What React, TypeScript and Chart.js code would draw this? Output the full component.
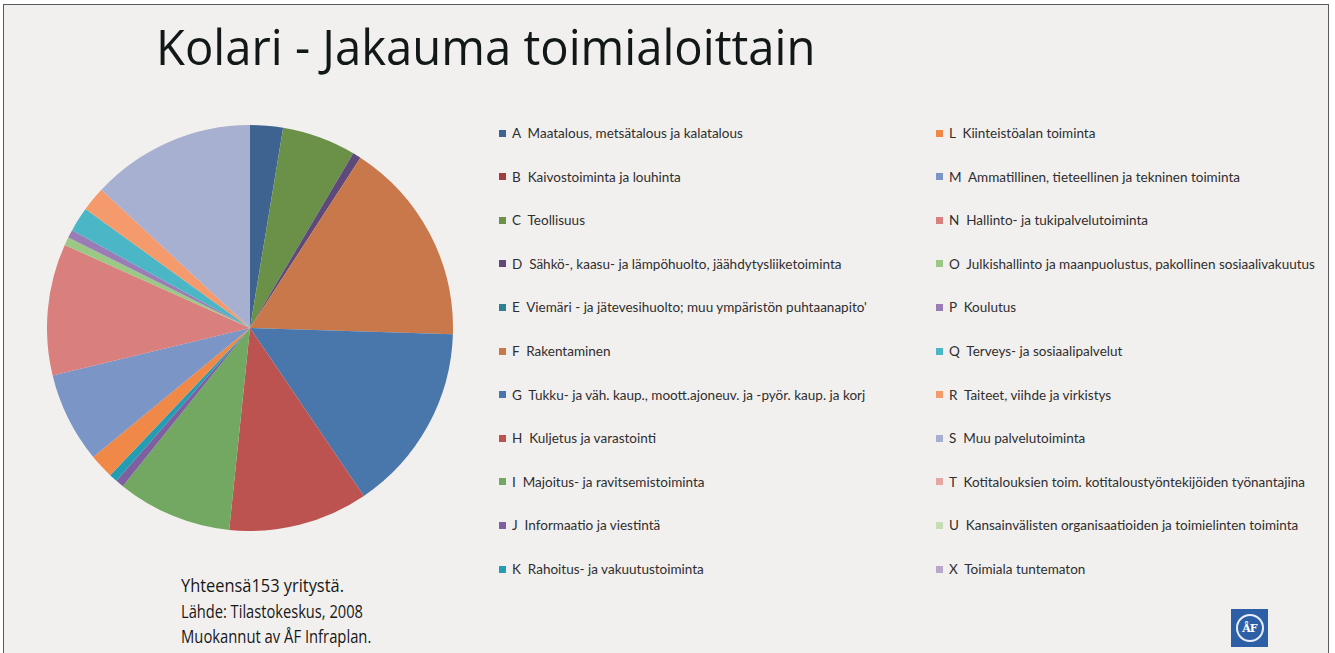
import React, { useEffect, useLayoutEffect, useRef, useState } from "react";
import Chart from "chart.js/auto";

const chartTitle = "Kolari - Jakauma toimialoittain";

const codes = ["A", "B", "C", "D", "E", "F", "G", "H", "I", "J", "K", "L", "M", "N", "O", "P", "Q", "R", "S", "T", "U", "X"];

const industries = [
  "Maatalous, metsätalous ja kalatalous",
  "Kaivostoiminta ja louhinta",
  "Teollisuus",
  "Sähkö-, kaasu- ja lämpöhuolto, jäähdytysliiketoiminta",
  "Viemäri - ja jätevesihuolto; muu ympäristön puhtaanapito'",
  "Rakentaminen",
  "Tukku- ja väh. kaup., moott.ajoneuv. ja -pyör. kaup. ja korj",
  "Kuljetus ja varastointi",
  "Majoitus- ja ravitsemistoiminta",
  "Informaatio ja viestintä",
  "Rahoitus- ja vakuutustoiminta",
  "Kiinteistöalan toiminta",
  "Ammatillinen, tieteellinen ja tekninen toiminta",
  "Hallinto- ja tukipalvelutoiminta",
  "Julkishallinto ja maanpuolustus, pakollinen sosiaalivakuutus",
  "Koulutus",
  "Terveys- ja sosiaalipalvelut",
  "Taiteet, viihde ja virkistys",
  "Muu palvelutoiminta",
  "Kotitalouksien toim. kotitaloustyöntekijöiden työnantajina",
  "Kansainvälisten organisaatioiden ja toimielinten toiminta",
  "Toimiala tuntematon",
];

// number of companies per industry (total 153)
const companies = [4, 0, 9, 1, 0, 25, 23, 17, 14, 1, 1, 3, 11, 16, 1, 1, 3, 3, 20, 0, 0, 0];

const sliceColors = [
  "#3f6391", "#a0403e", "#6b9149", "#5e4a7a", "#2e8095", "#c8784a",
  "#4a77ab", "#bd5350", "#72a862", "#7e5fa0", "#239db3", "#f08848",
  "#7a95c6", "#d97f7d", "#9cc886", "#9a7cb6", "#4bb6c6", "#f59a6c",
  "#a8b0d2", "#e7a5a3", "#c5dcb5", "#b9a7cc",
];

const footnotes = ["Yhteensä153 yritystä.", "Lähde: Tilastokeskus, 2008", "Muokannut av ÅF Infraplan."];
const footnoteWidths = [163, 182, 190];

function FitText({ text, width, style }: { text: string; width: number; style?: React.CSSProperties }) {
  const ref = useRef<HTMLSpanElement>(null);
  const [scale, setScale] = useState(1);
  useLayoutEffect(() => {
    const el = ref.current;
    if (!el) return;
    const w = el.offsetWidth;
    if (w > 0) setScale(width / w);
  }, [text, width]);
  return (
    <span
      ref={ref}
      style={{
        display: "inline-block",
        whiteSpace: "pre",
        transformOrigin: "0 50%",
        transform: `scaleX(${scale})`,
        ...style,
      }}
    >
      {text}
    </span>
  );
}

type LegendEntry = { text: string; color: string };

export default function App() {
  const canvasRef = useRef<HTMLCanvasElement>(null);
  const [legendItems, setLegendItems] = useState<LegendEntry[]>([]);

  useEffect(() => {
    const canvas = canvasRef.current;
    if (!canvas) return;
    const chart = new Chart(canvas, {
      type: "pie",
      data: {
        labels: codes.map((c, i) => `${c}  ${industries[i]}`),
        datasets: [
          {
            data: companies,
            backgroundColor: sliceColors,
            borderWidth: 0,
          },
        ],
      },
      options: {
        responsive: false,
        animation: false,
        layout: { padding: 0 },
        plugins: {
          legend: { display: false },
          tooltip: { enabled: false },
        },
      },
    });
    let items: LegendEntry[] = [];
    try {
      const gen = (chart.options as any).plugins.legend.labels.generateLabels;
      items = gen(chart).map((it: any) => ({ text: it.text, color: it.fillStyle }));
    } catch (e) {
      items = [];
    }
    if (!items.length) {
      items = codes.map((c, i) => ({ text: `${c}  ${industries[i]}`, color: sliceColors[i] }));
    }
    setLegendItems(items);
    return () => chart.destroy();
  }, []);

  const perCol = Math.ceil(codes.length / 2);

  return (
    <div
      style={{
        position: "fixed",
        left: 0,
        top: 0,
        width: 1335,
        height: 653,
        background: "#ffffff",
        overflow: "hidden",
      }}
    >
      <div
        style={{
          position: "absolute",
          left: 3,
          top: 4,
          width: 1326,
          height: 700,
          border: "1.5px solid #5a5a5a",
          background: "#f2f0ee",
          boxSizing: "border-box",
        }}
      />
      <div
        style={{
          position: "absolute",
          left: 156,
          top: 14,
          lineHeight: "64px",
          fontFamily: "'Open Sans', sans-serif",
          fontSize: 50,
          color: "#121818",
        }}
      >
        <FitText text={chartTitle} width={659} />
      </div>

      <canvas
        ref={canvasRef}
        width={406}
        height={406}
        style={{ position: "absolute", left: 47, top: 125, width: 406, height: 406 }}
      />

      {legendItems.map((it, i) => {
        const col = Math.floor(i / perCol);
        const row = i % perCol;
        const left = col === 0 ? 499 : 936;
        const cy = 133 + row * 43.6;
        return (
          <div
            key={i}
            style={{
              position: "absolute",
              left,
              top: cy - 9,
              height: 18,
              display: "flex",
              alignItems: "center",
              whiteSpace: "pre",
              fontFamily: "Lato, sans-serif",
              fontSize: 13.5,
              color: "#2e2e2e",
            }}
          >
            <span style={{ display: "inline-block", width: 7, height: 7, background: it.color, marginRight: 6 }} />
            <span>{it.text}</span>
          </div>
        );
      })}

      {footnotes.map((t, i) => (
        <div
          key={i}
          style={{
            position: "absolute",
            left: 181,
            top: 573 + i * 25.7,
            lineHeight: "25px",
            fontFamily: "'Open Sans', sans-serif",
            fontWeight: 500,
            fontSize: 19,
            color: "#181818",
          }}
        >
          <FitText text={t} width={footnoteWidths[i]} />
        </div>
      ))}

      <div
        style={{
          position: "absolute",
          left: 1231,
          top: 609,
          width: 37,
          height: 38,
          background: "#2d5fa6",
          display: "flex",
          alignItems: "center",
          justifyContent: "center",
        }}
      >
        <div
          style={{
            width: 28,
            height: 28,
            borderRadius: "50%",
            border: "2px solid #e8eef7",
            boxSizing: "border-box",
            display: "flex",
            alignItems: "center",
            justifyContent: "center",
            color: "#ffffff",
            fontFamily: "'DejaVu Serif', serif",
            fontWeight: 700,
            fontSize: 11,
            letterSpacing: -1,
          }}
        >
          ÅF
        </div>
      </div>
    </div>
  );
}
